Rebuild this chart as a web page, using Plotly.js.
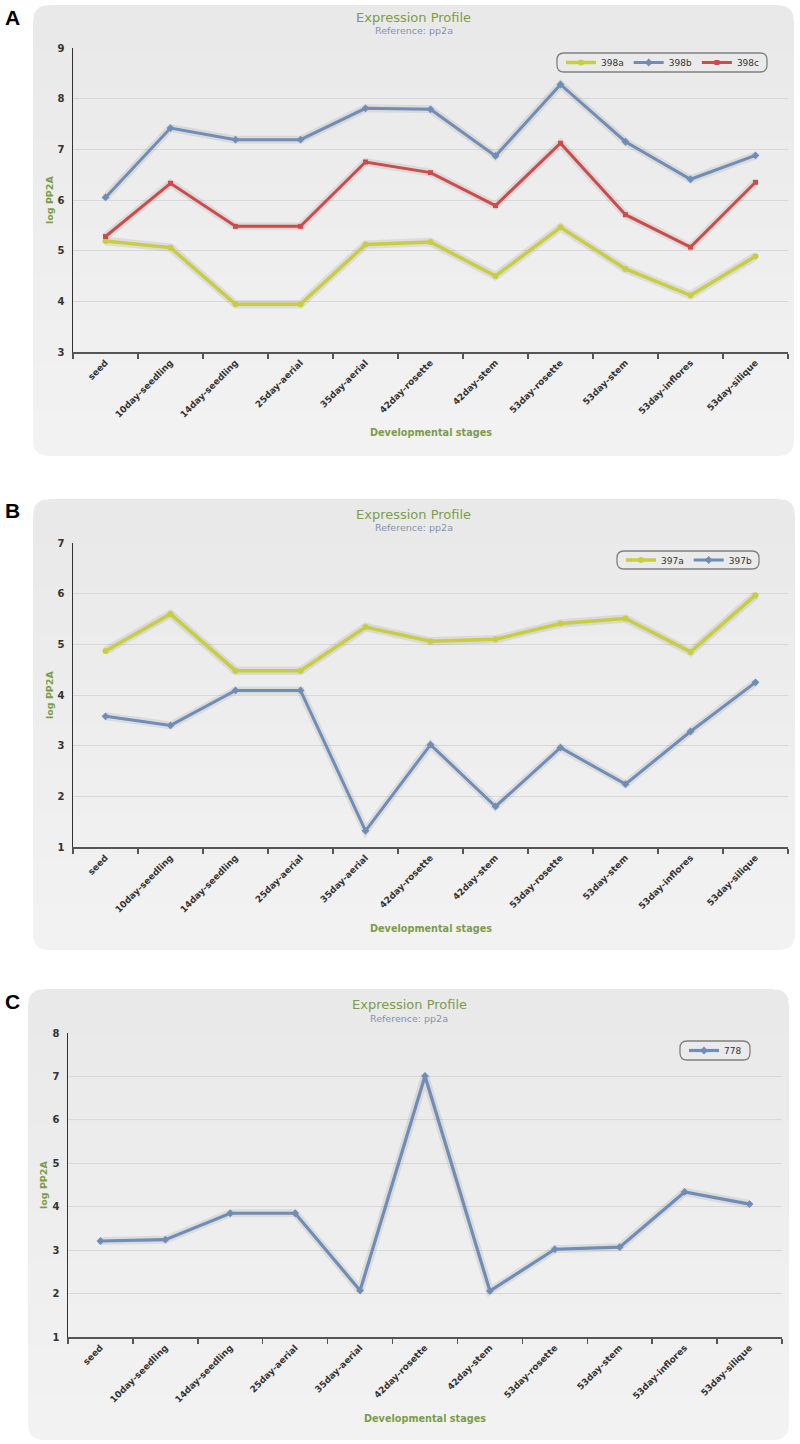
<!DOCTYPE html>
<html>
<head>
<meta charset="utf-8">
<script src="https://cdn.plot.ly/plotly-3.0.1.min.js"></script>
<style>
  html, body { margin: 0; padding: 0; background: #fff; }
  #chart { width: 800px; height: 1444px; }
</style>
</head>
<body>
<div id="chart"></div>
<script>
var W = 800, H = 1444;

// developmental stages (shared x categories)
var stages = ['seed', '10day-seedling', '14day-seedling', '25day-aerial', '35day-aerial',
  '42day-rosette', '42day-stem', '53day-rosette', '53day-stem', '53day-inflores', '53day-silique'];

// panel A
var mir398a = [5.19, 5.06, 3.94, 3.94, 5.12, 5.17, 4.50, 5.46, 4.64, 4.12, 4.89];
var mir398b = [6.05, 7.42, 7.19, 7.19, 7.81, 7.79, 6.87, 8.28, 7.15, 6.41, 6.88];
var mir398c = [5.28, 6.33, 5.48, 5.48, 6.75, 6.54, 5.89, 7.12, 5.71, 5.07, 6.35];
// panel B
var mir397a = [4.87, 5.60, 4.48, 4.48, 5.34, 5.06, 5.10, 5.41, 5.51, 4.85, 5.97];
var mir397b = [3.58, 3.40, 4.09, 4.09, 1.32, 3.02, 1.80, 2.96, 2.24, 3.28, 4.25];
// panel C
var mir778 = [3.21, 3.24, 3.85, 3.85, 2.07, 7.01, 2.06, 3.02, 3.07, 4.34, 4.06];

var yRanges = [[3, 9], [1, 7], [1, 8]];
var panelLetters = ['A', 'B', 'C'];

var FONT = 'DejaVu Sans, Verdana, sans-serif';
var GREEN = '#7c9c4c';
var YELLOW = '#c9cd41', BLUE = '#6f8db6', RED = '#cf4a4a';

// pixel -> paper helpers (margins are zero so paper == page)
function X(v) { return v / W; }
function Y(v) { return 1 - v / H; }

// rounded rect path in paper coords, separate top / bottom radius
function roundRect(x0, y0, x1, y1, rt, rb) {
  var p = function (x, y) { return X(x).toFixed(5) + ',' + Y(y).toFixed(5); };
  return 'M' + p(x0 + rt, y0) +
    ' L' + p(x1 - rt, y0) +
    ' Q' + p(x1, y0) + ' ' + p(x1, y0 + rt) +
    ' L' + p(x1, y1 - rb) +
    ' Q' + p(x1, y1) + ' ' + p(x1 - rb, y1) +
    ' L' + p(x0 + rb, y1) +
    ' Q' + p(x0, y1) + ' ' + p(x0, y1 - rb) +
    ' L' + p(x0, y0 + rt) +
    ' Q' + p(x0, y0) + ' ' + p(x0 + rt, y0) + ' Z';
}

// layout geometry for each panel, in px
var geo = [
  { box: [33, 5, 794, 456], plot: [73, 48, 788, 352], title: 18, sub: 31, tx: 414,
    xt: 432, yt: 49, letter: 17, leg: [557, 53, 767, 72], legx: 561 },
  { box: [33, 499, 795, 950], plot: [73, 543, 788, 847], title: 514, sub: 527, tx: 414,
    xt: 928, yt: 49, letter: 510, leg: [617, 551, 759, 569], legx: 621 },
  { box: [28, 989, 789, 1440], plot: [68, 1033, 782, 1337], title: 1004, sub: 1018, tx: 409,
    xt: 1418, yt: 43, letter: 1001, leg: [680, 1041, 750, 1060], legx: 684 }
];

var series = [
  { name: '398a', y: mir398a, color: YELLOW, symbol: 'circle', size: 6, width: 3.5, panel: 0 },
  { name: '398b', y: mir398b, color: BLUE, symbol: 'diamond', size: 6, width: 3, panel: 0 },
  { name: '398c', y: mir398c, color: RED, symbol: 'square', size: 5, width: 3, panel: 0 },
  { name: '397a', y: mir397a, color: YELLOW, symbol: 'circle', size: 6, width: 3.5, panel: 1 },
  { name: '397b', y: mir397b, color: BLUE, symbol: 'diamond', size: 6, width: 3, panel: 1 },
  { name: '778', y: mir778, color: BLUE, symbol: 'diamond', size: 6, width: 3.2, panel: 2 }
];

var traces = [];
series.forEach(function (s) {
  var k = s.panel === 0 ? '' : String(s.panel + 1);
  // soft shadow under the line
  traces.push({
    x: stages, y: s.y, xaxis: 'x' + k, yaxis: 'y' + k,
    mode: 'lines', type: 'scatter', showlegend: false, hoverinfo: 'skip',
    line: { color: 'rgba(40,40,40,0.09)', width: s.width + 5 }
  });
  traces.push({
    x: stages, y: s.y, xaxis: 'x' + k, yaxis: 'y' + k, name: s.name,
    mode: 'lines+markers', type: 'scatter',
    legend: s.panel === 0 ? 'legend' : 'legend' + (s.panel + 1),
    line: { color: s.color, width: s.width },
    marker: { color: s.color, symbol: s.symbol, size: s.size }
  });
});

var layout = {
  width: W, height: H,
  margin: { l: 0, r: 0, t: 0, b: 0 },
  paper_bgcolor: '#ffffff',
  plot_bgcolor: 'rgba(0,0,0,0)',
  font: { family: FONT, color: '#333' },
  shapes: [],
  annotations: []
};

function note(text, x, y, font, extra) {
  var a = { text: text, xref: 'paper', yref: 'paper', x: X(x), y: Y(y),
    xanchor: 'center', yanchor: 'middle', showarrow: false, font: font };
  for (var key in extra) a[key] = extra[key];
  return a;
}

geo.forEach(function (g, i) {
  var k = i === 0 ? '' : String(i + 1);
  var p = g.plot;

  layout['xaxis' + k] = {
    type: 'category', anchor: 'y' + k,
    domain: [X(p[0]), X(p[2])],
    range: [-0.5, stages.length - 0.5],
    tickson: 'boundaries', ticks: 'outside', ticklen: 5, tickwidth: 1.5, tickcolor: '#555',
    showline: true, linecolor: '#555', linewidth: 2,
    showgrid: false, zeroline: false, fixedrange: true,
    tickangle: -45,
    tickfont: { family: FONT, size: 9, color: '#333', weight: 'bold' }
  };
  layout['yaxis' + k] = {
    anchor: 'x' + k,
    domain: [Y(p[3]), Y(p[1])],
    range: yRanges[i], dtick: 1,
    showgrid: true, gridcolor: '#d8d8d8', gridwidth: 1,
    showline: true, linecolor: '#333', linewidth: 1.5,
    zeroline: false, fixedrange: true, ticks: '',
    ticklabelstandoff: 5,
    tickfont: { family: FONT, size: 10, color: '#333', weight: 'bold' }
  };

  // panel background with a faint vertical gradient
  var b = g.box;
  layout.shapes.push({
    type: 'path', xref: 'paper', yref: 'paper', layer: 'below',
    path: roundRect(b[0], b[1], b[2], b[3], 16, 16),
    fillcolor: '#f3f3f3', line: { width: 0 }
  });
  for (var s = 1; s <= 10; s++) {
    var yb = b[1] + (b[3] - b[1]) * s / 10;
    layout.shapes.push({
      type: 'path', xref: 'paper', yref: 'paper', layer: 'below',
      path: roundRect(b[0], b[1], b[2], yb, 16, s === 10 ? 16 : 0),
      fillcolor: 'rgba(0,0,0,0.0055)', line: { width: 0 }
    });
  }

  // rounded legend frame
  var L = g.leg;
  layout.shapes.push({
    type: 'path', xref: 'paper', yref: 'paper', layer: 'above',
    path: roundRect(L[0], L[1], L[2], L[3], 7, 7),
    fillcolor: 'rgba(0,0,0,0)', line: { color: '#808080', width: 1.3 }
  });
  layout[i === 0 ? 'legend' : 'legend' + (i + 1)] = {
    orientation: 'h', x: X(g.legx), xanchor: 'left',
    y: Y((L[1] + L[3]) / 2), yanchor: 'middle',
    bgcolor: 'rgba(0,0,0,0)', borderwidth: 0,
    itemwidth: 30, traceorder: 'normal',
    font: { family: FONT, size: 9, color: '#333' }
  };

  // titles
  layout.annotations.push(
    note('Expression Profile', g.tx, g.title, { family: FONT, size: 13, color: GREEN }),
    note('Reference: pp2a', g.tx, g.sub, { family: FONT, size: 9.5, color: '#8493aa' }),
    note('Developmental stages', (p[0] + p[2]) / 2, g.xt,
      { family: FONT, size: 9.7, color: GREEN, weight: 'bold' }),
    note('log PP2A', g.yt, (p[1] + p[3]) / 2,
      { family: FONT, size: 9.5, color: GREEN, weight: 'bold' }, { textangle: -90 }),
    note(panelLetters[i], 12, g.letter,
      { family: 'Liberation Sans, Arial, sans-serif', size: 21, color: '#000', weight: 'bold' })
  );
});

Plotly.newPlot('chart', traces, layout, { displayModeBar: false, staticPlot: true });
</script>
</body>
</html>
